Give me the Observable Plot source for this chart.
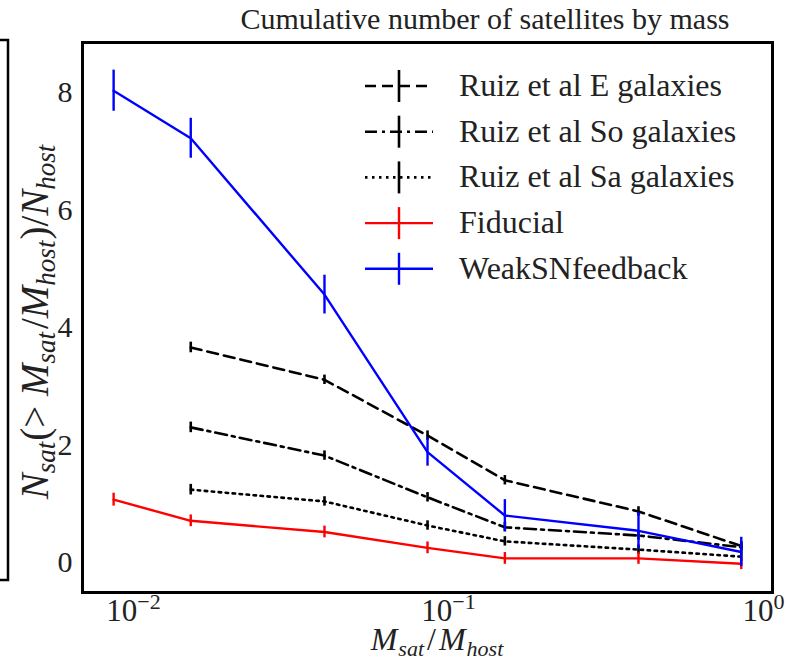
<!DOCTYPE html>
<html>
<head>
<meta charset="utf-8">
<script src="https://cdn.jsdelivr.net/npm/d3@7"></script>
<script src="https://cdn.jsdelivr.net/npm/@observablehq/plot@0.6"></script>
<style>
  body { margin: 0; background: #fff; }
</style>
</head>
<body>
<div id="chart"></div>
<script>
// ---- data ----
const simMass   = [0.00865, 0.0152, 0.0404, 0.0858, 0.151, 0.401, 0.85];
const ruizMass  = [0.0152, 0.0404, 0.0858, 0.151, 0.401, 0.85];
const fiducial     = [1.07, 0.71, 0.52, 0.25, 0.07, 0.07, -0.02];
const fiducialErr  = [0.11, 0.10, 0.10, 0.10, 0.10, 0.10, 0.10];
const weakSN       = [8.03, 7.22, 4.56, 1.88, 0.80, 0.54, 0.18];
const weakSNErr    = [0.35, 0.34, 0.33, 0.24, 0.27, 0.31, 0.25];
const ruizE   = [3.66, 3.11, 2.16, 1.40, 0.87, 0.28];
const ruizSo  = [2.30, 1.82, 1.11, 0.60, 0.46, 0.26];
const ruizSa  = [1.24, 1.04, 0.63, 0.36, 0.22, 0.10];
const ruizErr = [0.09, 0.08, 0.08, 0.08, 0.08, 0.08];
const xTicks = [0.01, 0.1, 1];
const xTickExponents = ["\u22122", "\u22121", "0"];
const yTicks = [0, 2, 4, 6, 8];
const seriesNames = ["Ruiz et al E galaxies", "Ruiz et al So galaxies", "Ruiz et al Sa galaxies", "Fiducial", "WeakSNfeedback"];

// ---- build tables ----
const rows = (xs, ys, es, name) => xs.map((x, i) => ({x, y: ys[i], e: es[i], name}));
const dE   = rows(ruizMass, ruizE, ruizErr, seriesNames[0]);
const dSo  = rows(ruizMass, ruizSo, ruizErr, seriesNames[1]);
const dSa  = rows(ruizMass, ruizSa, ruizErr, seriesNames[2]);
const dFid = rows(simMass, fiducial, fiducialErr, seriesNames[3]);
const dWeak = rows(simMass, weakSN, weakSNErr, seriesNames[4]);

const series = [
  {data: dE,   stroke: "#000", width: 2.6, dash: "11,6"},
  {data: dSo,  stroke: "#000", width: 2.6, dash: "12,5,3,5"},
  {data: dSa,  stroke: "#000", width: 2.6, dash: "2.5,4.5"},
  {data: dFid, stroke: "#ff0000", width: 2.4, dash: null},
  {data: dWeak, stroke: "#0000ff", width: 2.4, dash: null}
];

const marks = [];
for (const s of series) {
  marks.push(Plot.line(s.data, {x: "x", y: "y", stroke: s.stroke, strokeWidth: s.width, strokeDasharray: s.dash}));
  marks.push(Plot.ruleX(s.data, {x: "x", y1: d => d.y - d.e, y2: d => d.y + d.e, stroke: s.stroke, strokeWidth: s.width}));
}

const FONT = "'Liberation Serif', 'Times New Roman', Tinos, 'DejaVu Serif', serif";

const chart = Plot.plot({
  width: 789,
  height: 666,
  marginLeft: 82,
  marginRight: 17,
  marginTop: 42,
  marginBottom: 74,
  style: {fontFamily: FONT, background: "#fff"},
  x: {type: "log", domain: [0.00689, 1.068]},
  y: {domain: [-0.51, 8.85]},
  marks: [
    ...marks,
    Plot.frame({stroke: "#000", strokeWidth: 3}),
    Plot.axisX(xTicks, {anchor: "bottom", tickSize: 0, tickPadding: 6, fontSize: 31, fill: "#222",
      tickFormat: () => "10", label: null}),
    Plot.axisY(yTicks, {anchor: "left", tickSize: 0, tickPadding: 10, fontSize: 30, fill: "#222",
      tickFormat: d3.format("d"), label: null})
  ]
});
document.getElementById("chart").appendChild(chart);

const svg = d3.select(chart);

// x tick labels: "10" with a raised exponent (axis texts come in tick order)
svg.selectAll("text").filter(function() { return this.textContent === "10"; })
  .each(function(d, i) {
    d3.select(this).append("tspan").attr("dy", -12).attr("font-size", 22).text(xTickExponents[i]);
  });

// ---- annotations: title, axis labels, legend, neighbouring panel edge ----
const g = svg.append("g").attr("fill", "#222");

g.append("text").attr("x", 485).attr("y", 29).attr("text-anchor", "middle")
  .attr("font-size", 30).text("Cumulative number of satellites by mass");

// x label M_sat / M_host
const xl = g.append("text").attr("x", 437).attr("y", 650).attr("text-anchor", "middle")
  .attr("font-size", 32).attr("font-style", "italic");
xl.append("tspan").text("M");
xl.append("tspan").attr("font-size", 22).attr("dy", 6).attr("dx", 1).text("sat");
xl.append("tspan").attr("dy", -6).attr("dx", 3).attr("font-style", "normal").text("/");
xl.append("tspan").attr("dx", 3).text("M");
xl.append("tspan").attr("font-size", 22).attr("dy", 6).attr("dx", 1).text("host");

// y label N_sat(> M_sat/M_host)/N_host
const yl = g.append("text").attr("transform", "translate(48,322) rotate(-90)").attr("text-anchor", "middle")
  .attr("font-size", 39).attr("font-style", "italic");
yl.append("tspan").text("N");
yl.append("tspan").attr("font-size", 27).attr("dy", 7).text("sat");
yl.append("tspan").attr("dy", -7).attr("dx", 1).attr("font-style", "normal").text("(> ");
yl.append("tspan").text("M");
yl.append("tspan").attr("font-size", 27).attr("dy", 7).text("sat");
yl.append("tspan").attr("dy", -7).attr("dx", 3).attr("font-style", "normal").text("/");
yl.append("tspan").text("M");
yl.append("tspan").attr("font-size", 27).attr("dy", 7).text("host");
yl.append("tspan").attr("dy", -7).attr("dx", 1).attr("font-style", "normal").text(")/");
yl.append("tspan").text("N");
yl.append("tspan").attr("font-size", 27).attr("dy", 7).text("host");

// legend
const legY0 = 86, legDy = 45.7;
series.forEach((s, i) => {
  const y = legY0 + i * legDy;
  const lg = svg.append("g");
  lg.append("line").attr("x1", 365).attr("x2", 433).attr("y1", y).attr("y2", y)
    .attr("stroke", s.stroke).attr("stroke-width", s.width).attr("stroke-dasharray", s.dash);
  lg.append("line").attr("x1", 399).attr("x2", 399).attr("y1", y - 16).attr("y2", y + 16)
    .attr("stroke", s.stroke).attr("stroke-width", s.width);
  lg.append("text").attr("x", 459).attr("y", y + 10).attr("font-size", 32).attr("fill", "#222")
    .attr("text-anchor", "start").text(seriesNames[i]);
});

// serif face on every text element
svg.selectAll("text").attr("font-family", FONT).style("font-family", FONT);

// edge of the neighbouring panel on the left
svg.append("path").attr("d", "M0,40 H8 V580 H0").attr("fill", "none").attr("stroke", "#000").attr("stroke-width", 2.5);
</script>
</body>
</html>
